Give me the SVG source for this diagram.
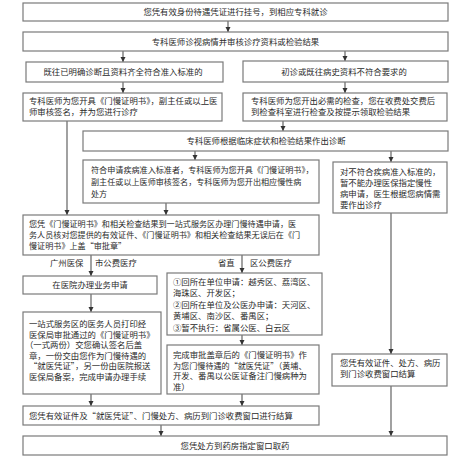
<svg xmlns="http://www.w3.org/2000/svg" width="465" height="459" viewBox="0 0 465 459">
<style>
.box{fill:#fff;stroke:#7a7a7a;stroke-width:1.2}
text{font-family:"Noto Sans CJK SC","Noto Sans",sans-serif;font-size:8.4px;fill:#2a2a2a}
.c{text-anchor:middle}
.s{font-size:8.1px}
.conn line{stroke:#555;stroke-width:1.1;fill:none}
</style>
<defs>
<marker id="ah" markerUnits="userSpaceOnUse" markerWidth="6" markerHeight="6" refX="5" refY="3" orient="auto">
<path d="M0,0.5 L5,3 L0,5.5 z" fill="#333"/>
</marker>
</defs>
<rect width="465" height="459" fill="#fff"/>
<g id="connectors" class="conn">
<line x1="228" y1="21" x2="228" y2="32" marker-end="url(#ah)"/>
<line x1="123" y1="51" x2="123" y2="62" marker-end="url(#ah)"/>
<line x1="345" y1="51" x2="345" y2="61" marker-end="url(#ah)"/>
<line x1="123" y1="82" x2="123" y2="93" marker-end="url(#ah)"/>
<line x1="345" y1="82" x2="345" y2="93" marker-end="url(#ah)"/>
<line x1="283" y1="121" x2="283" y2="131" marker-end="url(#ah)"/>
<line x1="67" y1="121" x2="67" y2="215" marker-end="url(#ah)"/>
<line x1="195" y1="151" x2="195" y2="160" marker-end="url(#ah)"/>
<line x1="391" y1="151" x2="391" y2="162" marker-end="url(#ah)"/>
<line x1="166" y1="203" x2="166" y2="215" marker-end="url(#ah)"/>
<line x1="391" y1="213" x2="391" y2="354" marker-end="url(#ah)"/>
<line x1="91" y1="255" x2="91" y2="276" marker-end="url(#ah)"/>
<line x1="242" y1="255" x2="242" y2="273" marker-end="url(#ah)"/>
<line x1="91" y1="294" x2="91" y2="312" marker-end="url(#ah)"/>
<line x1="242" y1="335" x2="242" y2="345" marker-end="url(#ah)"/>
<line x1="91" y1="394" x2="91" y2="406" marker-end="url(#ah)"/>
<line x1="242" y1="394" x2="242" y2="406" marker-end="url(#ah)"/>
<line x1="161" y1="425" x2="161" y2="436" marker-end="url(#ah)"/>
<line x1="391" y1="386" x2="391" y2="436" marker-end="url(#ah)"/>
</g>
<g id="n1"><rect class="box" x="23" y="3" width="425" height="18"/><text class="c" x="235.5" y="15">您凭有效身份待遇凭证进行挂号，到相应专科就诊</text></g>
<g id="n2"><rect class="box" x="23" y="32" width="425" height="19"/><text class="c" x="235.5" y="44.5">专科医师诊视病情并审核诊疗资料或检验结果</text></g>
<g id="n3"><rect class="box" x="26" y="62" width="197" height="20"/><text class="c" x="123" y="75">既往已明确诊断且资料齐全符合准入标准的</text></g>
<g id="n4"><rect class="box" x="243" y="61" width="205" height="21"/><text class="c" x="344" y="74.5">初诊或既往病史资料不符合要求的</text></g>
<g id="n5"><rect class="box" x="23" y="93" width="199" height="28"/><text x="29" y="104">专科医师为您开具《门慢证明书》，副主任或以上医</text><text x="29" y="115">师审核签名，并为您进行诊疗</text></g>
<g id="n6"><rect class="box" x="243" y="93" width="204" height="28"/><text x="251" y="104">专科医师为您开出必需的检查，您在收费处交费后</text><text x="251" y="115">到检查科室进行检查及按提示领取检验结果</text></g>
<g id="n7"><rect class="box" x="83" y="131" width="365" height="20"/><text class="c" x="266" y="144">专科医师根据临床症状和检验结果作出诊断</text></g>
<g id="n8"><rect class="box" x="83" y="160" width="236" height="43"/><text class="s" x="91" y="173">符合申请疾病准入标准者，专科医师为您开具《门慢证明书》，</text><text class="s" x="91" y="185">副主任或以上医师审核签名，专科医师为您开出相应慢性病</text><text class="s" x="91" y="196.5">处方</text></g>
<g id="n9"><rect class="box" x="333" y="162" width="114" height="51"/><text x="340" y="175">对不符合疾病准入标准的，</text><text x="340" y="186">暂不能办理医保指定慢性</text><text x="340" y="197">病申请，医生根据您病情需</text><text x="340" y="208">要作出诊疗</text></g>
<g id="n10"><rect class="box" x="23" y="215" width="296" height="40"/><text class="s" x="29" y="227">您凭《门慢证明书》和相关检查结果到一站式服务区办理门慢待遇申请，医</text><text class="s" x="29" y="238">务人员核对您提供的有效证件、《门慢证明书》和相关检查结果无误后在《门</text><text class="s" x="29" y="249">慢证明书》上盖“审批章”</text></g>
<g id="labels"><text x="50" y="266">广州医保</text><text x="95" y="266">市公费医疗</text><text x="218" y="266">省直</text><text x="250" y="266">区公费医疗</text></g>
<g id="n11"><rect class="box" x="23" y="276" width="134" height="18"/><text class="c" x="90" y="288">在医院办理业务申请</text></g>
<g id="n12"><rect class="box" x="167" y="273" width="155" height="62"/><text x="173" y="284.5">①回所在单位申请：越秀区、荔湾区、</text><text x="173" y="296">海珠区、开发区；</text><text x="173" y="307.5">②回所在单位及公医办申请：天河区、</text><text x="173" y="319">黄埔区、南沙区、番禺区；</text><text x="173" y="330.5">③暂不执行：省属公医、白云区</text></g>
<g id="n13"><rect class="box" x="23" y="312" width="138" height="82"/><text x="29" y="327">一站式服务区的医务人员打印经</text><text x="29" y="337.5">医保局审批通过的《门慢证明书》</text><text x="25" y="348">（一式两份）交您确认签名后盖</text><text x="29" y="358.5">章，一份交由您作为门慢待遇的</text><text x="29" y="369">“就医凭证”，另一份由医院报送</text><text x="29" y="379.5">医保局备案，完成申请办理手续</text></g>
<g id="n14"><rect class="box" x="167" y="345" width="152" height="49"/><text x="173" y="358">完成审批盖章后的《门慢证明书》作</text><text class="s" x="173" y="368.5">为您门慢待遇的“就医凭证”（黄埔、</text><text x="173" y="379">开发、番禺以公医证备注门慢病种为</text><text x="173" y="389.5">准）</text></g>
<g id="n15"><rect class="box" x="332" y="354" width="115" height="32"/><text x="340" y="366">您凭有效证件、处方、病历</text><text x="340" y="377">到门诊收费窗口结算</text></g>
<g id="n16"><rect class="box" x="23" y="406" width="296" height="19"/><text x="29" y="418.5">您凭有效证件及“就医凭证”、门慢处方、病历到门诊收费窗口进行结算</text></g>
<g id="n17"><rect class="box" x="23" y="436" width="424" height="19"/><text class="c" x="235" y="448.5">您凭处方到药房指定窗口取药</text></g>
</svg>
